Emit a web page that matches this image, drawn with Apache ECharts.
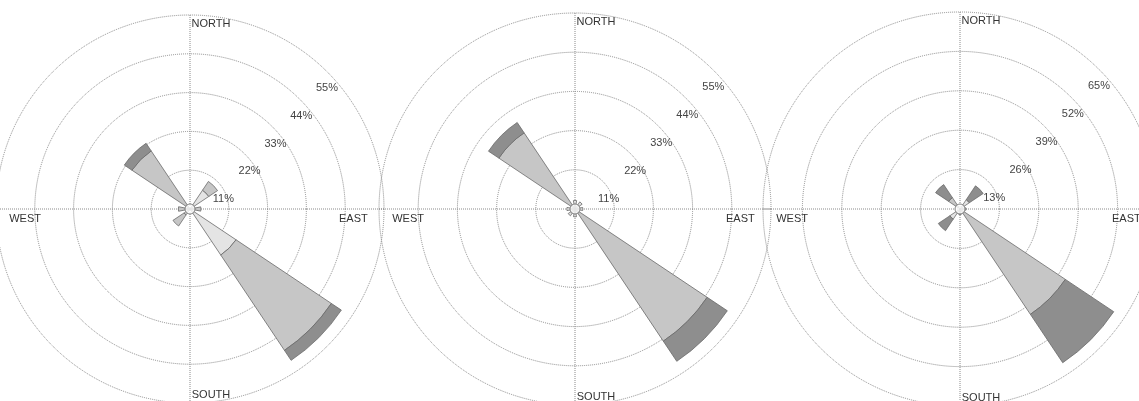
<!DOCTYPE html>
<html><head><meta charset="utf-8">
<script src="https://cdn.jsdelivr.net/npm/echarts@6/dist/echarts.min.js"></script>
<style>html,body{margin:0;padding:0;background:#fff}#c{width:1139px;height:401px}</style>
</head><body><div id="c"></div>
<script>
// ---- data ----
const directions = ['N', 'NE', 'E', 'SE', 'S', 'SW', 'W', 'NW'];
const compass = ['NORTH', 'EAST', 'SOUTH', 'WEST'];

const rose1Ticks = [11, 22, 33, 44, 55];
const rose1Light  = [0, 6.4, 0, 15.7, 0, 2.0, 0, 0];
const rose1Medium = [0, 3.0, 3.1, 32.5, 0, 3.8, 3.3, 19.8];
const rose1Dark   = [0, 0, 0, 3.4, 0, 0, 0, 2.6];

const rose2Ticks = [11, 22, 33, 44, 55];
const rose2Light  = [2.4, 2.4, 2.2, 0, 2.2, 2.3, 2.3, 0];
const rose2Medium = [0, 0, 0, 44.6, 0, 0, 0, 25.7];
const rose2Dark   = [0, 0, 0, 6.8, 0, 0, 0, 3.5];

const rose3Ticks = [13, 26, 39, 52, 65];
const rose3Light  = [0, 3.7, 2.0, 0, 1.9, 4.0, 0, 0];
const rose3Medium = [0, 0, 0, 41.8, 0, 0, 0, 4.5];
const rose3Dark   = [0, 5.5, 0, 19.2, 0, 4.6, 0, 5.2];

// ---- build ----
const roses = [
  { ticks: rose1Ticks, layers: [rose1Light, rose1Medium, rose1Dark] },
  { ticks: rose2Ticks, layers: [rose2Light, rose2Medium, rose2Dark] },
  { ticks: rose3Ticks, layers: [rose3Light, rose3Medium, rose3Dark] }
];
const placement = [
  { cx: 190, cy: 209, r: 194 },
  { cx: 575, cy: 209, r: 196 },
  { cx: 960, cy: 209, r: 197 }
];
const layerColors = ['#e4e4e4', '#c6c6c6', '#8e8e8e'];
const font = 'Liberation Sans, Arial, sans-serif';
const gridLine = { type: 'dotted', color: '#8a8a8a', width: 1 };
const compassKeys = ['n', 'e', 's', 'w'];

const polar = [], angleAxis = [], radiusAxis = [], series = [];

roses.forEach((rose, i) => {
  const p = placement[i];
  const max = rose.ticks[rose.ticks.length - 1];
  const step = rose.ticks[0];
  const base = i * 3;

  // grid polar
  polar.push({ center: [p.cx, p.cy], radius: p.r });
  angleAxis.push({
    polarIndex: base, type: 'value', min: 0, max: 360, interval: 90,
    startAngle: 90, clockwise: true,
    axisLine: { show: false }, axisTick: { show: false },
    splitLine: { show: true, lineStyle: gridLine },
    axisLabel: {
      show: true, margin: -45, color: '#333', fontSize: 11, fontFamily: font,
      formatter: v => {
        const k = Math.round(v / 90);
        if (k < 0 || k > 3) return '';
        return '{' + compassKeys[k] + '|' + compass[k] + '}';
      },
      rich: {
        n: { padding: [0, 0, 31, 42], fontSize: 11, fontFamily: font, color: '#333' },
        s: { padding: [31, 0, 0, 42], fontSize: 11, fontFamily: font, color: '#333' },
        e: { padding: [20, 0, 0, 0], fontSize: 11, fontFamily: font, color: '#333' },
        w: { padding: [20, 0, 0, 0], fontSize: 11, fontFamily: font, color: '#333' }
      }
    }
  });
  radiusAxis.push({
    polarIndex: base, type: 'value', min: 0, max: max, interval: step,
    axisLine: { show: false }, axisTick: { show: false }, axisLabel: { show: false },
    splitLine: { show: true, lineStyle: gridLine }
  });

  // bar polar
  polar.push({ center: [p.cx, p.cy], radius: p.r });
  angleAxis.push({
    polarIndex: base + 1, type: 'category', data: directions,
    startAngle: 90 + 360 / directions.length / 2, clockwise: true, boundaryGap: true,
    show: false
  });
  radiusAxis.push({ polarIndex: base + 1, type: 'value', min: 0, max: max, show: false });

  // label polar
  polar.push({ center: [p.cx - 3, p.cy + 17.5], radius: p.r * 0.975 });
  angleAxis.push({ polarIndex: base + 2, type: 'value', min: 0, max: 360, startAngle: 47, show: false });
  radiusAxis.push({
    polarIndex: base + 2, type: 'value', min: 0, max: max, interval: step,
    axisLine: { show: false }, axisTick: { show: false }, splitLine: { show: false },
    axisLabel: {
      show: true, margin: 0, align: 'left', verticalAlign: 'middle',
      color: '#444', fontSize: 11, fontFamily: font,
      formatter: v => (v > 0 ? v + '%' : '')
    }
  });

  rose.layers.forEach((arr, li) => {
    series.push({
      type: 'bar', coordinateSystem: 'polar', polarIndex: base + 1,
      stack: 'rose' + i, barCategoryGap: '50%', silent: true,
      data: arr.map(v => (v === 0 ? null : v)),
      itemStyle: { color: layerColors[li], borderColor: '#6a6a6a', borderWidth: 0.8 }
    });
  });
  series.push({
    type: 'scatter', coordinateSystem: 'polar', polarIndex: base + 1, silent: true,
    data: [[0, 0]], symbol: 'circle', symbolSize: 10, z: 10,
    itemStyle: { color: '#ffffff', borderColor: '#6a6a6a', borderWidth: 1 }
  });
});

const chart = echarts.init(document.getElementById('c'));
chart.setOption({
  animation: false,
  backgroundColor: '#ffffff',
  polar, angleAxis, radiusAxis, series
});
</script>
</body></html>
